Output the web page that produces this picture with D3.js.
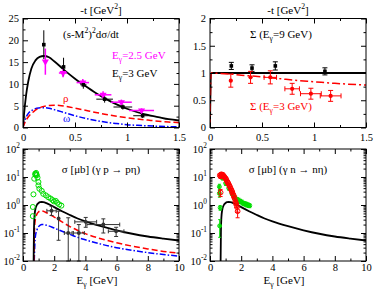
<!DOCTYPE html>
<html>
<head>
<meta charset="utf-8">
<script src="https://cdn.jsdelivr.net/npm/d3@7"></script>
<style>
  body { margin: 0; background: #fff; }
  svg { display: block; font-family: "Liberation Serif", "Times New Roman", serif; }
</style>
</head>
<body>
<svg id="chart" width="374" height="291"></svg>
<script>
// ---- panel 1: (s-M^2)^2 dsigma/dt vs -t
const p1Total = [[0,0],[0.01,3],[0.03,7.5],[0.05,10.5],[0.08,13.5],[0.12,15.4],[0.16,16.2],[0.2,16.4],[0.25,16.1],[0.3,15.2],[0.4,13.1],[0.5,11.2],[0.6,9.5],[0.7,7.9],[0.8,6.5],[0.9,5.3],[1.0,4.3],[1.1,3.5],[1.2,2.9],[1.3,2.4],[1.4,1.9],[1.5,1.6]];
const p1Rho = [[0,0],[0.02,1.2],[0.05,2.4],[0.1,3.6],[0.15,4.4],[0.2,4.85],[0.25,5.05],[0.3,5.1],[0.35,5.05],[0.4,4.9],[0.5,4.45],[0.6,3.95],[0.7,3.45],[0.8,3.0],[0.9,2.6],[1.0,2.25],[1.1,1.95],[1.2,1.7],[1.3,1.45],[1.4,1.25],[1.5,1.1]];
const p1Omega = [[0,0],[0.02,1.8],[0.05,3.2],[0.1,4.1],[0.15,4.5],[0.2,4.55],[0.25,4.4],[0.3,4.1],[0.4,3.4],[0.5,2.7],[0.6,2.1],[0.7,1.6],[0.8,1.2],[0.9,0.9],[1.0,0.65],[1.1,0.5],[1.2,0.38],[1.3,0.28],[1.4,0.2],[1.5,0.15]];
// [t, value, err, dt]
const p1Data3 = [[0.2,19,3.3,0],[0.39,13.9,2.1,0],[0.58,9.8,0.9,0.03],[0.785,6.5,0.8,0.08],[0.96,4.7,0.6,0.09],[1.15,2.7,0.5,0.09]];
const p1Data25 = [[0.215,15.1,3.0,0],[0.385,12.5,1.0,0.04],[0.575,10.3,0.8,0.06],[0.77,7.5,0.8,0.08],[0.946,5.8,0.6,0.1],[1.14,3.9,0.5,0.12]];

// ---- panel 2: beam asymmetry
const p2Sigma9 = [[0,0],[0.01,1],[1.5,1]];
const p2Sigma3 = [[0,0],[0.01,1.0],[0.1,0.99],[0.2,0.98],[0.3,0.96],[0.4,0.945],[0.5,0.93],[0.6,0.91],[0.7,0.89],[0.8,0.87],[1.0,0.84],[1.2,0.81],[1.5,0.78]];
const p2Data9 = [[0.205,1.13,0.065,0],[0.404,1.09,0.06,0],[0.628,1.13,0.075,0],[1.105,1.03,0.065,0]];
const p2Data3 = [[0.2,0.86,0.12,0],[0.39,0.92,0.11,0],[0.58,0.92,0.12,0.06],[0.79,0.71,0.1,0.07],[0.97,0.62,0.1,0.1],[1.16,0.58,0.1,0.1]];

// ---- panel 3: gamma p -> p eta
const p3Total = [[0.68,0.01],[0.7,0.1],[0.73,0.35],[0.78,0.65],[0.88,0.98],[1.0,1.18],[1.1,1.26],[1.2,1.28],[1.3,1.26],[1.5,1.16],[1.75,1.0],[2,0.84],[2.5,0.6],[3,0.44],[3.5,0.33],[4,0.26],[5,0.175],[6,0.125],[7,0.094],[8,0.075],[9,0.063],[10,0.054]];
const p3Rho = [[0.7,0.01],[0.72,0.06],[0.75,0.18],[0.8,0.32],[0.9,0.48],[1.0,0.57],[1.1,0.61],[1.2,0.62],[1.3,0.6],[1.5,0.53],[2,0.37],[2.5,0.25],[3,0.17],[3.5,0.125],[4,0.095],[5,0.062],[6,0.045],[7,0.034],[8,0.027],[9,0.022],[10,0.019]];
const p3Omega = [[0.72,0.01],[0.76,0.04],[0.8,0.08],[0.9,0.13],[1.0,0.17],[1.1,0.19],[1.2,0.2],[1.3,0.2],[1.5,0.19],[2,0.15],[2.5,0.115],[3,0.09],[3.5,0.07],[4,0.057],[5,0.04],[6,0.03],[7,0.024],[8,0.02],[9,0.017],[10,0.015]];
// [E, value, low, high, dE]
const p3Data = [[1.83,0.62,0.42,0.9,0.3],[2.28,0.33,0.055,0.6,0],[2.9,0.1,0.01,0.35,0.25],[3.58,0.1,0.01,0.2,0.35],[4.02,0.25,0.16,0.36,0.7],[5.15,0.2,0.1,0.32,1.05],[5.97,0.115,0.075,0.16,0.5]];
const p3Green = [[0.63,0.4],[0.63,0.85],[0.67,2.4],[0.72,8.7],[0.78,13],[0.8,12],[0.84,14],[0.86,12.5],[0.88,11.5],[0.93,9.5],[0.99,6.6],[0.99,5],[1.05,3.8],[1.2,3.2],[1.3,2.5],[1.47,2.2],[1.62,1.9],[1.77,1.7],[1.9,1.5],[1.98,1.35],[2.1,1.4],[2.19,1.2],[2.32,1.05],[2.46,0.95]];

// ---- panel 4: gamma n -> n eta
const p4Total = p3Total;
// [E, value, err]
const p4Red = [[0.63,11.5,1.5],[0.68,10.5,1.5],[0.73,12.5,2],[0.78,11,1.5],[0.83,12,1.5],[0.88,10.5,1.5],[0.93,10,1.5],[0.98,9,1.2],[1.03,8.5,1.2],[1.08,7.2,1],[1.13,6.5,1],[1.18,5.8,0.8],[1.23,5,0.8],[1.28,4.5,0.7],[1.33,3.8,0.6],[1.38,3.3,0.6],[1.43,2.9,0.5],[1.48,2.4,0.5],[1.53,2.1,0.4],[1.58,1.7,0.4],[1.63,1.3,0.3],[1.68,1.1,0.3],[1.73,0.85,0.3],[1.77,0.6,0.25],[0.68,2.8,0.8]];
// [E, value, low, high]
const p4Green = [[0.6,4.5,3.5,5.5],[0.6,2.6,1.9,3.3],[0.65,0.8,0.65,0.95],[0.62,0.18,0.07,0.3],[0.8,9,8,10],[1.0,6,5,7],[1.2,4,3.4,4.6],[1.4,2.6,2.2,3],[1.55,1.9,1.5,2.3],[1.65,1.7,1.35,2.05],[1.75,1.55,1.25,1.85],[1.85,1.45,1.15,1.75],[1.95,1.35,1.1,1.6],[2.05,1.25,1.0,1.5],[2.15,1.15,0.95,1.35],[2.25,1.1,0.9,1.3],[2.35,1.05,0.85,1.25],[2.45,1.0,0.82,1.18],[2.55,0.95,0.8,1.1]];

// tick values
const tTicks = [0, 0.5, 1, 1.5];
const tMinor = [0.25, 0.75, 1.25];
const p1YTicks = [0, 5, 10, 15, 20, 25];
const p1YMinor = [2.5, 7.5, 12.5, 17.5, 22.5];
const p2YTicks = [0, 0.5, 1, 1.5, 2];
const p2YMinor = [0.25, 0.75, 1.25, 1.75];
const eTicks = [0, 2, 4, 6, 8, 10];
const eMinor = [1, 3, 5, 7, 9];
const logTicks = [1e-2, 1e-1, 1, 10, 100];
const logExp = ["-2", "-1", "0", "1", "2"];

const RED = "#ff0000", BLUE = "#0000ff", GREEN = "#00dd00", MAG = "#ff00ff";
const FS = 11, TICK_FS = 10.5;
const svg = d3.select("#chart");

function panel(box, xDom, yDom, log, id) {
  const g = svg.append("g").attr("transform", `translate(${box.x},${box.y})`);
  const x = d3.scaleLinear().domain(xDom).range([0, box.w]);
  const y = (log ? d3.scaleLog() : d3.scaleLinear()).domain(yDom).range([box.h, 0]);
  g.append("clipPath").attr("id", id).append("rect").attr("width", box.w).attr("height", box.h);
  const plot = g.append("g").attr("clip-path", `url(#${id})`);
  return { g, plot, x, y, w: box.w, h: box.h };
}

function styleAxis(sel) {
  sel.select(".domain").remove();
  sel.selectAll("line").attr("stroke", "#000");
  sel.selectAll("text").attr("font-size", TICK_FS).attr("font-family", "Liberation Serif, serif").attr("fill", "#000");
}

function axes(p, xMaj, xMin, yMaj, yMin, xFmt, yFmt, pad) {
  const { g, x, y, w, h } = p;
  const sides = [
    [d3.axisBottom, x, `translate(0,${h})`, xMaj, xMin, xFmt],
    [d3.axisTop, x, "translate(0,0)", xMaj, xMin, null],
    [d3.axisLeft, y, "translate(0,0)", yMaj, yMin, yFmt],
    [d3.axisRight, y, `translate(${w},0)`, yMaj, yMin, null]
  ];
  sides.forEach(([ax, sc, tr, maj, min, fmt]) => {
    g.append("g").attr("transform", tr)
      .call(ax(sc).tickValues(maj).tickSize(-5).tickPadding(ax === d3.axisBottom ? pad : 4).tickFormat(fmt || (() => "")))
      .call(styleAxis);
    g.append("g").attr("transform", tr)
      .call(ax(sc).tickValues(min).tickSize(-2.5).tickFormat(() => ""))
      .call(styleAxis);
  });
  g.append("rect").attr("width", w).attr("height", h).attr("fill", "none").attr("stroke", "#000").attr("stroke-width", 1);
}

function rich(g, x, y, parts, color, anchor, fs) {
  fs = fs || FS;
  const t = g.append("text").attr("x", x).attr("y", y).attr("font-size", fs)
    .attr("fill", color || "#000").attr("text-anchor", anchor || "start");
  let shift = 0;
  parts.forEach(([s, k]) => {
    const target = k === "sup" ? -0.4 * fs : k === "sub" ? 0.3 * fs : 0;
    t.append("tspan").attr("dy", target - shift).attr("font-size", k ? fs * 0.7 : fs).text(s);
    shift = target;
  });
  return t;
}

function curve(p, data, color, dash, width) {
  p.plot.append("path").datum(data)
    .attr("d", d3.line().x(d => p.x(d[0])).y(d => p.y(d[1])).curve(d3.curveMonotoneX))
    .attr("fill", "none").attr("stroke", color).attr("stroke-width", width || 1.5)
    .attr("stroke-dasharray", dash || null);
}

function errBars(p, data, color, acc, cap, width) {
  const g = p.g.append("g").attr("stroke", color).attr("stroke-width", width || 1);
  data.forEach(d => {
    const [xv, lo, hi, dx, yv] = acc(d);
    const cx = p.x(xv);
    g.append("line").attr("x1", cx).attr("x2", cx).attr("y1", p.y(lo)).attr("y2", p.y(hi));
    if (cap) {
      [lo, hi].forEach(v => g.append("line").attr("x1", cx - cap).attr("x2", cx + cap).attr("y1", p.y(v)).attr("y2", p.y(v)));
    }
    if (dx) {
      const cy = p.y(yv);
      g.append("line").attr("x1", p.x(xv - dx)).attr("x2", p.x(xv + dx)).attr("y1", cy).attr("y2", cy);
      if (cap) [xv - dx, xv + dx].forEach(v => g.append("line").attr("x1", p.x(v)).attr("x2", p.x(v)).attr("y1", cy - cap).attr("y2", cy + cap));
    }
  });
}

function symbols(p, data, type, size, fill, stroke, rot) {
  p.g.append("g").selectAll("path").data(data).join("path")
    .attr("d", d3.symbol().type(type).size(size))
    .attr("transform", d => `translate(${p.x(d[0])},${p.y(d[1])})${rot ? " rotate(" + rot + ")" : ""}`)
    .attr("fill", fill).attr("stroke", stroke || "none").attr("stroke-width", 1);
}

function logLabels(p) {
  logTicks.forEach((v, i) => {
    rich(p.g, -3, p.y(v) + 3.5, [["10"], [logExp[i], "sup"]], "#000", "end", TICK_FS);
  });
}

function logMinor() {
  const out = [];
  [1e-2, 1e-1, 1, 10].forEach(d => { for (let k = 2; k <= 9; k++) out.push(d * k); });
  return out;
}

const fmtT = d => d === 0 ? "0" : String(d);

// ---------- panel 1
const P1 = panel({ x: 23, y: 18.5, w: 156, h: 109 }, [0, 1.5], [0, 25], false, "c1");
curve(P1, p1Omega, BLUE, "6,2,1.5,2");
curve(P1, p1Rho, RED, "6,3");
curve(P1, p1Total, "#000", null, 1.8);
errBars(P1, p1Data25, MAG, d => [d[0], d[1] - d[2], d[1] + d[2], d[3], d[1]], 0, 1.5);
errBars(P1, p1Data3, "#000", d => [d[0], d[1] - d[2], d[1] + d[2], d[3], d[1]], 0, 1);
symbols(P1, p1Data25, d3.symbolTriangle, 22, MAG, null, 180);
symbols(P1, p1Data3, d3.symbolSquare, 13, "#000");
axes(P1, tTicks, tMinor, p1YTicks, p1YMinor, fmtT, d => String(d), 6);
rich(P1.g, 78, -5, [["-t [GeV"], ["2", "sup"], ["]"]], "#000", "middle");
rich(P1.g, 40, 19, [["(s-M"], ["2", "sup"], [")"], ["2", "sup"], ["dσ/dt"]]);
rich(P1.g, 89, 40, [["E"], ["γ", "sub"], ["=2.5 GeV"]], MAG);
rich(P1.g, 89, 58, [["E"], ["γ", "sub"], ["=3 GeV"]], "#000");
rich(P1.g, 40, 83, [["ρ"]], RED);
rich(P1.g, 40, 103, [["ω"]], BLUE);

// ---------- panel 2
const P2 = panel({ x: 210, y: 18.5, w: 156, h: 109 }, [0, 1.5], [0, 2], false, "c2");
curve(P2, p2Sigma9, "#000", null, 1.8);
curve(P2, p2Sigma3, RED, "8,3,2,3");
errBars(P2, p2Data9, "#000", d => [d[0], d[1] - d[2], d[1] + d[2], d[3], d[1]], 2.5);
errBars(P2, p2Data3, RED, d => [d[0], d[1] - d[2], d[1] + d[2], d[3], d[1]], 2.5);
symbols(P2, p2Data9, d3.symbolSquare, 13, "#000");
symbols(P2, p2Data3, d3.symbolCircle, 14, RED);
axes(P2, tTicks, tMinor, p2YTicks, p2YMinor, fmtT, d => String(d), 6);
rich(P2.g, 78, -5, [["-t [GeV"], ["2", "sup"], ["]"]], "#000", "middle");
rich(P2.g, 40, 19, [["Σ (E"], ["γ", "sub"], ["=9 GeV)"]]);
rich(P2.g, 40, 91, [["Σ (E"], ["γ", "sub"], ["=3 GeV)"]], RED);

// ---------- panel 3
const P3 = panel({ x: 23, y: 149, w: 156, h: 112 }, [0, 10], [1e-2, 1e2], true, "c3");
curve(P3, p3Omega, BLUE, "6,2,1.5,2");
curve(P3, p3Rho, RED, "6,3");
curve(P3, p3Total, "#000", null, 1.8);
symbols(P3, p3Green, d3.symbolCircle, 20, "none", GREEN);
errBars(P3, p3Data, "#333", d => [d[0], d[2], d[3], d[4], d[1]], 2);
symbols(P3, p3Data, d3.symbolCircle, 12, "#333");
axes(P3, eTicks, eMinor, logTicks, logMinor(), d => String(d), null, 3);
logLabels(P3);
rich(P3.g, 78, 24, [["σ [μb] (γ p → pη)"]], "#000", "middle");
rich(P3.g, 74, 135, [["E"], ["γ", "sub"], [" [GeV]"]], "#000", "middle");

// ---------- panel 4
const P4 = panel({ x: 210, y: 149, w: 156, h: 112 }, [0, 10], [1e-2, 1e2], true, "c4");
errBars(P4, p4Green, GREEN, d => [d[0], d[2], d[3], 0.05, d[1]], 1.5);
symbols(P4, p4Green, d3.symbolCircle, 12, "none", GREEN);
errBars(P4, p4Red, RED, d => [d[0], d[1] - d[2], d[1] + d[2], 0, d[1]], 2);
symbols(P4, p4Red, d3.symbolCircle, 18, "none", RED);
curve(P4, p4Total, "#000", null, 1.8);
axes(P4, eTicks, eMinor, logTicks, logMinor(), d => String(d), null, 3);
logLabels(P4);
rich(P4.g, 78, 24, [["σ [μb] (γ n → nη)"]], "#000", "middle");
rich(P4.g, 74, 135, [["E"], ["γ", "sub"], [" [GeV]"]], "#000", "middle");
</script>
</body>
</html>
